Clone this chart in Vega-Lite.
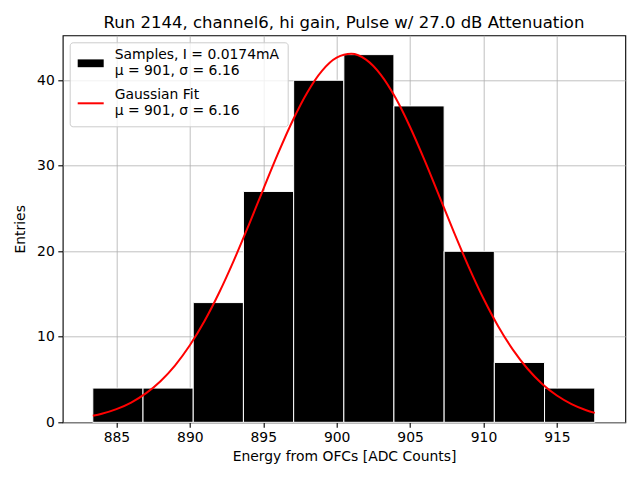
{
  "$schema": "https://vega.github.io/schema/vega-lite/v6.json",
  "autosize": "none",
  "width": 562.6,
  "height": 387,
  "padding": {"left": 62.7, "top": 35.3, "right": 14.7, "bottom": 57.7},
  "background": "white",
  "title": {
    "text": "Run 2144, channel6, hi gain, Pulse w/ 27.0 dB Attenuation",
    "font": "DejaVu Sans",
    "fontSize": 16.5,
    "fontWeight": "normal",
    "color": "black",
    "anchor": "middle",
    "offset": 4
  },
  "config": {
    "view": {"stroke": "black", "strokeWidth": 1.1},
    "axis": {
      "domain": false,
      "grid": true,
      "gridColor": "#b0b0b0",
      "gridWidth": 0.8,
      "gridOpacity": 1,
      "tickColor": "black",
      "tickWidth": 1.1,
      "tickSize": 4.9,
      "labelFont": "DejaVu Sans",
      "labelFontSize": 13.9,
      "labelColor": "black",
      "labelPadding": 3.5,
      "titleFont": "DejaVu Sans",
      "titleFontSize": 13.9,
      "titleFontWeight": "normal",
      "titleColor": "black",
      "zindex": 1
    }
  },
  "datasets": {
    "bins": [
      {"series": "Samples", "bin_start": 883.39, "bin_end": 886.81, "count": 4},
      {"series": "Samples", "bin_start": 886.81, "bin_end": 890.23, "count": 4},
      {"series": "Samples", "bin_start": 890.23, "bin_end": 893.65, "count": 14},
      {"series": "Samples", "bin_start": 893.65, "bin_end": 897.07, "count": 27},
      {"series": "Samples", "bin_start": 897.07, "bin_end": 900.49, "count": 40},
      {"series": "Samples", "bin_start": 900.49, "bin_end": 903.9, "count": 43},
      {"series": "Samples", "bin_start": 903.9, "bin_end": 907.32, "count": 37},
      {"series": "Samples", "bin_start": 907.32, "bin_end": 910.74, "count": 20},
      {"series": "Samples", "bin_start": 910.74, "bin_end": 914.16, "count": 7},
      {"series": "Samples", "bin_start": 914.16, "bin_end": 917.58, "count": 4}
    ],
    "fit": [
      {"series": "Gaussian Fit", "x": 883.39, "y": 0.755},
      {"series": "Gaussian Fit", "x": 884, "y": 1.0},
      {"series": "Gaussian Fit", "x": 885, "y": 1.541},
      {"series": "Gaussian Fit", "x": 886, "y": 2.312},
      {"series": "Gaussian Fit", "x": 887, "y": 3.38},
      {"series": "Gaussian Fit", "x": 888, "y": 4.811},
      {"series": "Gaussian Fit", "x": 889, "y": 6.67},
      {"series": "Gaussian Fit", "x": 890, "y": 9.007},
      {"series": "Gaussian Fit", "x": 891, "y": 11.847},
      {"series": "Gaussian Fit", "x": 892, "y": 15.178},
      {"series": "Gaussian Fit", "x": 893, "y": 18.938},
      {"series": "Gaussian Fit", "x": 894, "y": 23.015},
      {"series": "Gaussian Fit", "x": 895, "y": 27.245},
      {"series": "Gaussian Fit", "x": 896, "y": 31.412},
      {"series": "Gaussian Fit", "x": 897, "y": 35.273},
      {"series": "Gaussian Fit", "x": 898, "y": 38.58},
      {"series": "Gaussian Fit", "x": 899, "y": 41.098},
      {"series": "Gaussian Fit", "x": 900, "y": 42.642},
      {"series": "Gaussian Fit", "x": 901, "y": 43.094},
      {"series": "Gaussian Fit", "x": 902, "y": 42.418},
      {"series": "Gaussian Fit", "x": 903, "y": 40.667},
      {"series": "Gaussian Fit", "x": 904, "y": 37.974},
      {"series": "Gaussian Fit", "x": 905, "y": 34.536},
      {"series": "Gaussian Fit", "x": 906, "y": 30.594},
      {"series": "Gaussian Fit", "x": 907, "y": 26.397},
      {"series": "Gaussian Fit", "x": 908, "y": 22.182},
      {"series": "Gaussian Fit", "x": 909, "y": 18.155},
      {"series": "Gaussian Fit", "x": 910, "y": 14.474},
      {"series": "Gaussian Fit", "x": 911, "y": 11.239},
      {"series": "Gaussian Fit", "x": 912, "y": 8.499},
      {"series": "Gaussian Fit", "x": 913, "y": 6.26},
      {"series": "Gaussian Fit", "x": 914, "y": 4.492},
      {"series": "Gaussian Fit", "x": 915, "y": 3.139},
      {"series": "Gaussian Fit", "x": 916, "y": 2.136},
      {"series": "Gaussian Fit", "x": 917, "y": 1.416},
      {"series": "Gaussian Fit", "x": 917.58, "y": 1.1}
    ]
  },
  "layer": [
    {
      "data": {"name": "bins"},
      "mark": {"type": "bar", "stroke": "white", "strokeWidth": 1, "opacity": 1, "orient": "vertical"},
      "encoding": {
        "x": {
          "field": "bin_start",
          "type": "quantitative",
          "scale": {"domain": [881.68, 919.32], "nice": false, "zero": false},
          "axis": {"values": [885, 890, 895, 900, 905, 910, 915], "title": "Energy from OFCs [ADC Counts]", "titlePadding": 5}
        },
        "x2": {"field": "bin_end"},
        "y": {
          "field": "count",
          "type": "quantitative",
          "scale": {"domain": [0, 45.26], "nice": false},
          "axis": {"values": [0, 10, 20, 30, 40], "title": "Entries", "titlePadding": 9}
        },
        "y2": {"datum": 0},
        "color": {
          "field": "series",
          "type": "nominal",
          "scale": {"domain": ["Samples", "Gaussian Fit"], "range": ["black", "red"]},
          "legend": {
            "title": null,
            "orient": "top-left",
            "offset": 7,
            "padding": 8,
            "fillColor": "rgba(255,255,255,0.8)",
            "strokeColor": "#cccccc",
            "cornerRadius": 3,
            "labelFont": "DejaVu Sans",
            "labelFontSize": 13.9,
            "labelColor": "black",
            "labelOffset": 11,
            "labelLimit": 400,
            "labelBaseline": "line-bottom",
            "symbolSize": 676,
            "symbolStrokeWidth": 0,
            "symbolType": {"expr": "datum.value === 'Samples' ? 'M-1,-0.3H1V0.3H-1Z' : 'M-1,-0.077H1V0.077H-1Z'"},
            "rowPadding": 10,
            "labelExpr": "datum.value === 'Samples' ? ['Samples, I = 0.0174mA', 'μ = 901, σ = 6.16'] : ['Gaussian Fit', 'μ = 901, σ = 6.16']"
          }
        }
      }
    },
    {
      "data": {"name": "fit"},
      "mark": {"type": "line", "strokeWidth": 2, "interpolate": "monotone"},
      "encoding": {
        "x": {"field": "x", "type": "quantitative"},
        "y": {"field": "y", "type": "quantitative"},
        "color": {"field": "series", "type": "nominal"}
      }
    }
  ]
}
